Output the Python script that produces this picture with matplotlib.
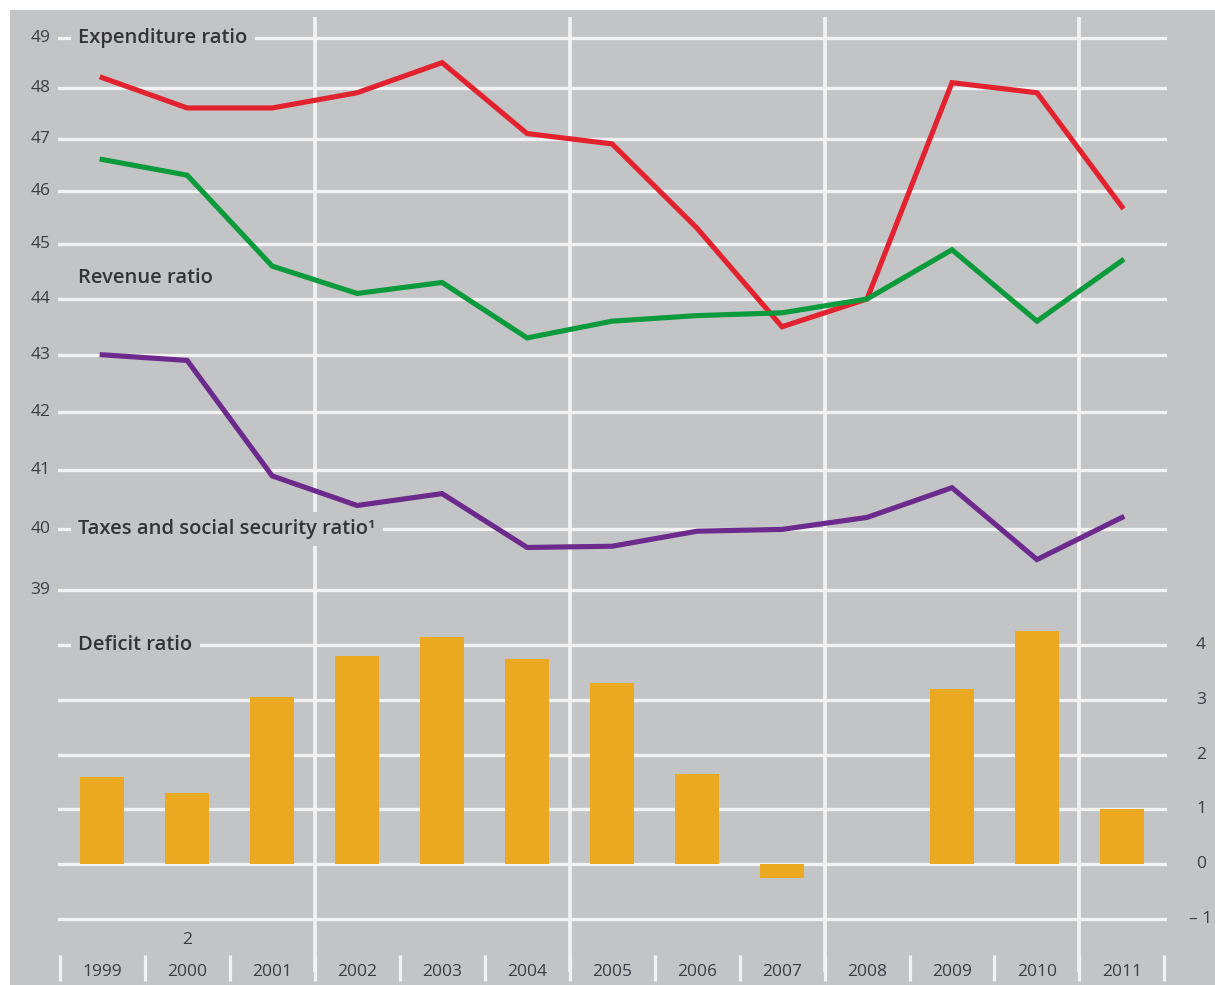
import numpy as np
import matplotlib
matplotlib.use("Agg")
import matplotlib.pyplot as plt
from matplotlib.patches import Rectangle

# ---------------- data ----------------
years = [1999, 2000, 2001, 2002, 2003, 2004, 2005, 2006, 2007, 2008, 2009, 2010, 2011]
year_labels = [str(y) for y in years]
expenditure_ratio = [48.2, 47.6, 47.6, 47.9, 48.5, 47.1, 46.9, 45.3, 43.5, 44.0, 48.1, 47.9, 45.7]
revenue_ratio = [46.6, 46.3, 44.6, 44.1, 44.3, 43.3, 43.6, 43.7, 43.75, 44.0, 44.9, 43.6, 44.7]
taxes_ratio = [43.0, 42.9, 40.9, 40.4, 40.6, 39.7, 39.72, 39.97, 40.0, 40.2, 40.7, 39.5, 40.2]
deficit_ratio = [1.6, 1.3, 3.05, 3.8, 4.15, 3.75, 3.3, 1.65, -0.25, 0.0, 3.2, 4.25, 1.0]
top_ticks = [39, 40, 41, 42, 43, 44, 45, 46, 47, 48, 49]
bottom_grid = [5, 4, 3, 2, 1, 0, -1]
bottom_ticks = [4, 3, 2, 1, 0, -1]
bottom_tick_labels = ["4", "3", "2", "1", "0", "\u2013 1"]
major_separators = [2001.5, 2004.5, 2007.5, 2010.5]

# ---------------- style ----------------
BG = "#c3c4c6"
GRID = "#f2f2f2"
TXT = "#3c3c44"
RED = "#e2232f"
GREEN = "#0b9a3c"
PURPLE = "#6c2a8c"
ORANGE = "#eaa920"
plt.rcParams["font.family"] = ["Open Sans", "DejaVu Sans"]

W, H = 1215, 985
fig = plt.figure(figsize=(W / 100, H / 100), dpi=100, facecolor="white")
bg_rect = Rectangle((10 / W, 0), 1 - 10 / W, 1 - 10 / H, transform=fig.transFigure,
                    facecolor=BG, edgecolor="none", zorder=-10)
fig.patches.append(bg_rect)

left = 58 / W
width = (1167 - 58) / W
y_split = (H - 590) / H
ax = fig.add_axes([left, y_split, width, (H - 10) / H - y_split])
axb = fig.add_axes([left, 0, width, y_split])


# the printed scale of the top panel widens slightly toward the bottom
def fwd(v):
    d = 49 - np.asarray(v, dtype=float)
    return -(49.4 * d + 0.6 * d * d)


def inv(t):
    t = np.asarray(t, dtype=float)
    disc = np.clip(49.4 ** 2 - 2.4 * t, 0, None)
    d = (-49.4 + np.sqrt(disc)) / 1.2
    return 49 - d


ax.set_yscale("function", functions=(fwd, inv))
ax.set_ylim(39, 49.57)
axb.set_ylim(-2.2, 5)
xlim = (1998.48, 2011.53)

for a in (ax, axb):
    a.set_xlim(*xlim)
    a.patch.set_visible(False)
    for s in a.spines.values():
        s.set_visible(False)
    a.set_xticks([])
    a.set_yticks([])
    a.minorticks_off()

# horizontal grid lines
for v in top_ticks:
    ax.axhline(v, color=GRID, lw=2.4, zorder=1)
for v in bottom_grid:
    axb.axhline(v, color=GRID, lw=2.4, zorder=1)

# vertical separators
for xs in major_separators:
    ax.plot([xs, xs], [39, 49.42], color=GRID, lw=2.7, zorder=1, solid_capstyle="butt")
    axb.plot([xs, xs], [-1.97, 5], color=GRID, lw=2.7, zorder=1, solid_capstyle="butt")
minor_seps = [y - 0.5 for y in years] + [years[-1] + 0.5]
for xs in minor_seps:
    axb.plot([xs, xs], [-1.65, -2.12], color=GRID, lw=2.3, zorder=1, solid_capstyle="butt")

# lines
ax.plot(years, expenditure_ratio, color=RED, lw=3.7, zorder=3, solid_joinstyle="miter")
ax.plot(years, revenue_ratio, color=GREEN, lw=3.7, zorder=3, solid_joinstyle="miter")
ax.plot(years, taxes_ratio, color=PURPLE, lw=3.7, zorder=3, solid_joinstyle="miter")

# bars
axb.bar(years, deficit_ratio, width=0.52, color=ORANGE, zorder=2)

TICK_FS = 12.5
# left tick labels (top panel)
for v in top_ticks:
    ax.text(1998.48 - 0.21, v, str(v), ha="center", va="center", fontsize=TICK_FS, color=TXT,
            zorder=5, clip_on=False)
# right tick labels (bottom panel)
for v, lab in zip(bottom_ticks, bottom_tick_labels):
    axb.text(2011.53 + 0.4, v, lab, ha="center", va="center", fontsize=TICK_FS, color=TXT,
             zorder=5, clip_on=False)

# year labels
for yv, lab in zip(years, year_labels):
    axb.text(yv, -1.97, lab, ha="center", va="center", fontsize=TICK_FS, color=TXT, zorder=5)
axb.text(2000, -1.38, "2", ha="center", va="center", fontsize=TICK_FS, color=TXT, zorder=5)

# series labels
lab_kw = dict(ha="left", va="center", fontsize=14.5, fontweight="semibold", color="#333338",
              zorder=6, bbox=dict(boxstyle="square,pad=0.35", facecolor=BG, edgecolor="none"))
ax.text(1998.72, 49, "Expenditure ratio", **lab_kw)
ax.text(1998.72, 44.38, "Revenue ratio", **lab_kw)
ax.text(1998.72, 40, "Taxes and social security ratio\u00b9", **lab_kw)
axb.text(1998.72, 4, "Deficit ratio", **lab_kw)

fig.savefig("out.png", dpi=100, facecolor="white")
